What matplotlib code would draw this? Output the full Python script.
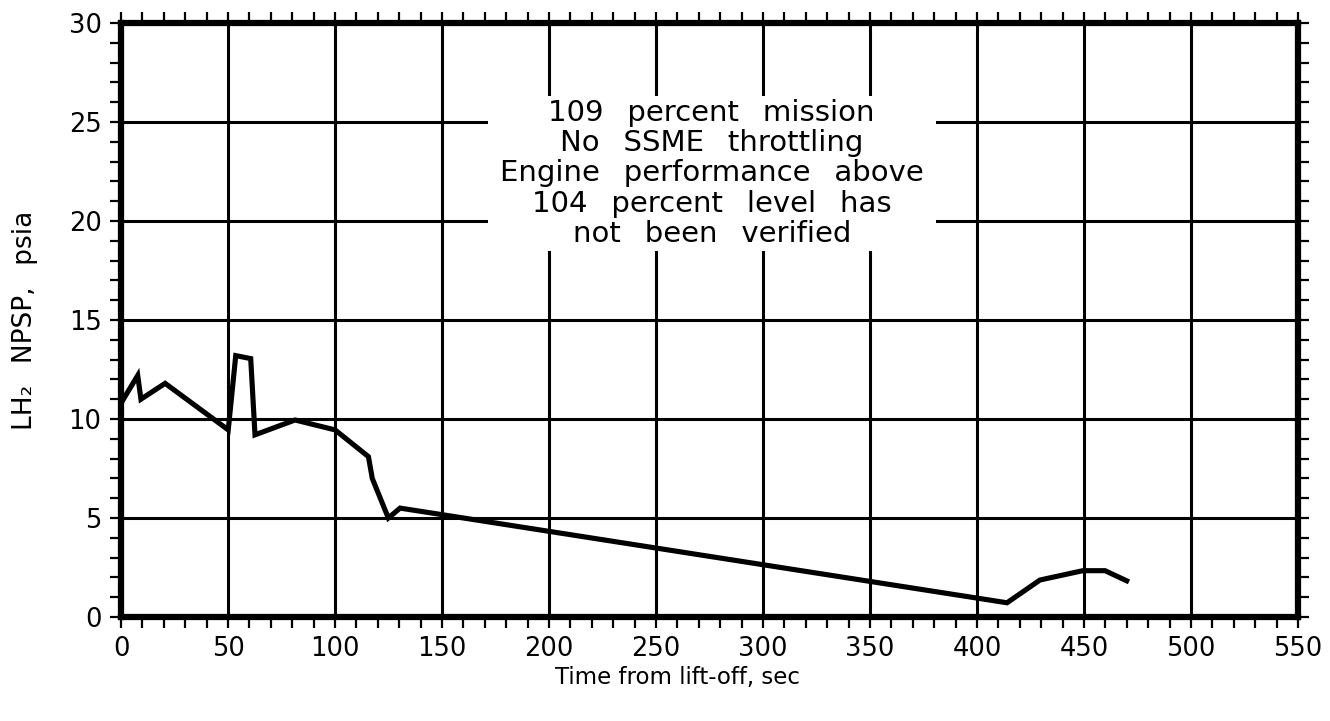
import numpy as np
import matplotlib
matplotlib.use("Agg")
import matplotlib.pyplot as plt
import matplotlib.patches as mpatches
from matplotlib.ticker import MultipleLocator

plt.rcParams.update({
    "font.family": "DejaVu Sans",
    "font.size": 18.5,
})

# ---- data --------------------------------------------------------------------
TIME = [0, 7.8, 9.3, 20.6, 50.1, 53.6, 60.6, 62.6, 81.3, 100, 115.6, 117.4,
        124.9, 130.4, 414, 429.4, 449.4, 459.8, 469.9]
NPSP = [10.8, 12.2, 11.0, 11.8, 9.45, 13.2, 13.05, 9.2, 9.95, 9.45, 8.1, 7.0,
        5.0, 5.5, 0.72, 1.87, 2.34, 2.34, 1.83]

X_TICKS = list(range(0, 551, 50))
Y_TICKS = list(range(0, 31, 5))
NOTE = ["109 percent mission", "No SSME throttling", "Engine performance above",
        "104 percent level has", "not been verified"]

WIDE = " \u2002"   # the original lettering uses very wide word gaps

# ---- figure --------------------------------------------------------------
fig = plt.figure(figsize=(13.3, 7.21), dpi=100)
ax = fig.add_axes([0.091, 0.1442, 0.885, 0.824])

ax.set_xlim(0, 550)
ax.set_ylim(0, 30)
ax.set_xticks(X_TICKS)
ax.set_yticks(Y_TICKS)
ax.xaxis.set_minor_locator(MultipleLocator(10))
ax.yaxis.set_minor_locator(MultipleLocator(1))
ax.tick_params(which="both", direction="out", length=8, width=1.6, color="black",
               top=True, right=True, labeltop=False, labelright=False)
ax.tick_params(axis="x", which="major", pad=6)
ax.tick_params(axis="y", which="major", pad=6)

for sp in ax.spines.values():
    sp.set_linewidth(4.5)
    sp.set_zorder(5)

ax.grid(True, which="major", color="black", lw=2.2, zorder=1)
ax.set_axisbelow(True)

# white panel behind the note (masks the grid)
ax.add_patch(mpatches.Rectangle((171.7, 18.5), 209.1, 7.8, facecolor="white",
                                edgecolor="none", zorder=2))
ax.text(276, 22.4, "\n".join(s.replace(" ", WIDE) for s in NOTE),
        ha="center", va="center", fontsize=21, linespacing=1.1, zorder=3)

ax.plot(TIME, NPSP, color="black", lw=3.7, solid_joinstyle="miter", zorder=4)

fig.text(0.509, 0.061, "Time from lift-off, sec", ha="center", va="center", fontsize=16.5)
fig.text(0.019, 0.556, "LH\u2082 NPSP, psia".replace(" ", WIDE), ha="center",
         va="center", rotation=90, fontsize=19)

fig.savefig("out.png", dpi=100, facecolor="white")
